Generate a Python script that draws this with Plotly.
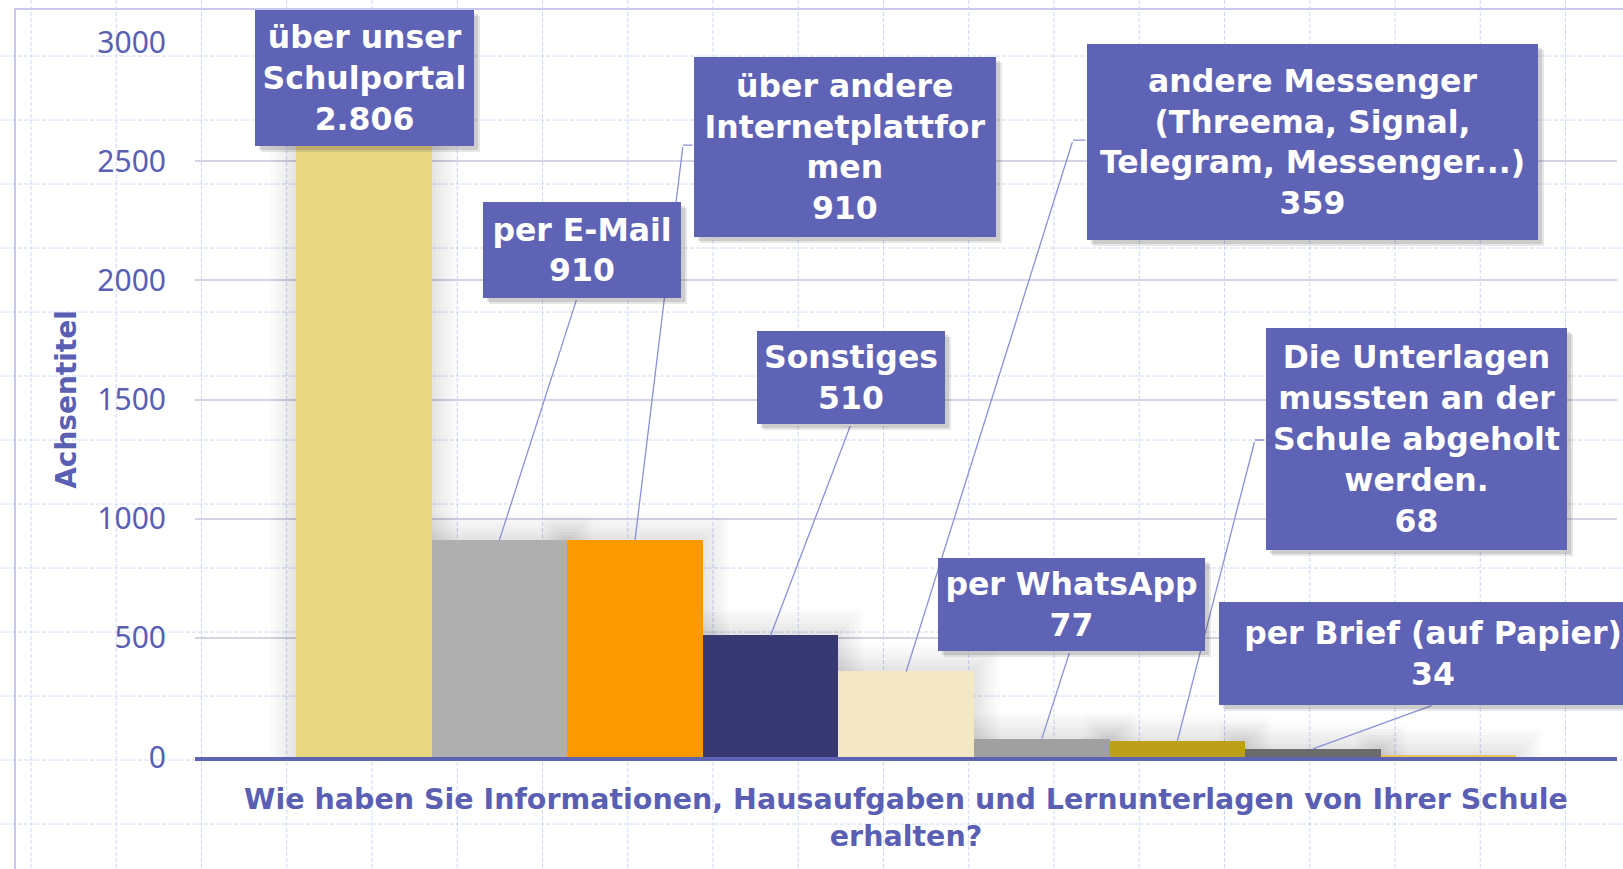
import plotly.graph_objects as go

# ---------------- data ----------------
categories = [
    "über unser Schulportal",
    "per E-Mail",
    "über andere Internetplattformen",
    "Sonstiges",
    "andere Messenger (Threema, Signal, Telegram, Messenger...)",
    "per WhatsApp",
    "Die Unterlagen mussten an der Schule abgeholt werden.",
    "per Brief (auf Papier)",
    "weitere",
]
values = [2806, 910, 910, 510, 359, 77, 68, 34, 10]
bar_colors = ["#E9D681", "#AFAFAF", "#FD9A00", "#383873", "#F4E8C4",
              "#A0A0A0", "#BD9F1A", "#6B6B6B", "#E6C35C"]
label_lines = [
    ["über unser", "Schulportal"],
    ["per E-Mail"],
    ["über andere", "Internetplattfor", "men"],
    ["Sonstiges"],
    ["andere Messenger", "(Threema, Signal,", "Telegram, Messenger...)"],
    ["per WhatsApp"],
    ["Die Unterlagen", "mussten an der", "Schule abgeholt", "werden."],
    ["per Brief (auf Papier)"],
]
y_ticks = [0, 500, 1000, 1500, 2000, 2500, 3000]
y_title = "Achsentitel"
x_title = ("Wie haben Sie Informationen, Hausaufgaben und Lernunterlagen von Ihrer Schule"
           "<br>erhalten?")

# ---------------- styling / layout (pixels) ----------------
W, H = 1623, 869
M_L, M_R, M_T, M_B = 195, 6, 42, 112
Y_MAX = 3000
X_RANGE = [-1.245, 9.242]
PLOT_W = W - M_L - M_R
PLOT_H = H - M_T - M_B
UNITS_PER_PX_Y = Y_MAX / PLOT_H
UNITS_PER_PX_X = (X_RANGE[1] - X_RANGE[0]) / PLOT_W

BOX_COLOR = "#5F63B5"
TEXT_BLUE = "#5A5FB4"
LEADER = "#8C90D8"
BOLD = "DejaVu Sans"

# label box: centre offset from bar top (dx, dy in screen px), size, leader tail, elbow segment
label_boxes = [
    dict(dx=0.7, dy=-10, w=219, h=136, tail=None, seg=0),
    dict(dx=82.6, dy=-290, w=198, h=96, tail=(77.6, -242), seg=0),
    dict(dx=210, dy=-393, w=302, h=180, tail=(48, -395), seg=11),
    dict(dx=80.4, dy=-258, w=188, h=93, tail=(80.4, -211.4), seg=0),
    dict(dx=406.3, dy=-529.4, w=451, h=196, tail=(166.8, -531.4), seg=14),
    dict(dx=29.7, dy=-134, w=267, h=93, tail=(28.2, -87.6), seg=0),
    dict(dx=239, dy=-301.8, w=301, h=222, tail=(77.6, -300.8), seg=11),
    dict(dx=120, dy=-95.4, w=428, h=103, tail=(120, -43.9), seg=0),
]


def fmt_de(v):
    return f"{v:,}".replace(",", ".")


fig = go.Figure()

# soft glow behind bars (many faint layers -> smooth gradient)
for ext_px in [26, 23, 20, 17, 14, 11, 8, 5, 3]:
    fig.add_trace(go.Bar(
        x=categories,
        y=[v + ext_px * UNITS_PER_PX_Y for v in values],
        width=1 + 2 * ext_px * UNITS_PER_PX_X,
        marker=dict(color="rgba(60,60,60,0.016)", line=dict(width=0)),
        hoverinfo="skip", showlegend=False,
    ))

fig.add_trace(go.Bar(
    x=categories, y=values, width=1,
    marker=dict(color=bar_colors, line=dict(width=0)),
    showlegend=False,
))

# ---------------- background graph paper + frame ----------------
shapes = []


def px_to_paper_x(px):
    return (px - M_L) / PLOT_W


def py_to_paper_y(py):
    return (H - M_B - py) / PLOT_H


grid_col = "#CCD8F6"
gx = 31.0
while gx < W:
    shapes.append(dict(type="line", xref="paper", yref="paper",
                       x0=px_to_paper_x(gx), x1=px_to_paper_x(gx),
                       y0=py_to_paper_y(0), y1=py_to_paper_y(H),
                       line=dict(color=grid_col, width=1, dash="4px,2px"), layer="below"))
    gx += 85.25
gy = 56.0
while gy < H:
    shapes.append(dict(type="line", xref="paper", yref="paper",
                       x0=px_to_paper_x(0), x1=px_to_paper_x(W),
                       y0=py_to_paper_y(gy), y1=py_to_paper_y(gy),
                       line=dict(color=grid_col, width=1, dash="4px,2px"), layer="below"))
    gy += 64.0
shapes.append(dict(type="rect", xref="paper", yref="paper",
                   x0=px_to_paper_x(15), x1=px_to_paper_x(W + 20),
                   y0=py_to_paper_y(9), y1=py_to_paper_y(H + 20),
                   line=dict(color="#C8C8EE", width=2), fillcolor="rgba(0,0,0,0)",
                   layer="below"))

# ---------------- annotations ----------------
annotations = []
# leaders
for i, box in enumerate(label_boxes):
    if box["tail"] is None:
        continue
    tx, ty = box["tail"]
    annotations.append(dict(
        x=categories[i], y=values[i], xref="x", yref="y",
        text=" ", font=dict(size=1), showarrow=True, arrowhead=0,
        arrowwidth=1.3, arrowcolor=LEADER, ax=tx, ay=ty, standoff=0,
    ))
    if box["seg"]:
        annotations.append(dict(
            x=categories[i], y=values[i], xref="x", yref="y",
            xshift=tx, yshift=-ty,
            text=" ", font=dict(size=1), showarrow=True, arrowhead=0,
            arrowwidth=1.3, arrowcolor=LEADER, ax=box["seg"], ay=0, standoff=0,
        ))
# shadows (two soft layers) + boxes
for off, alpha in [(6, 0.12), (4, 0.16)]:
    for i, box in enumerate(label_boxes):
        annotations.append(dict(
            x=categories[i], y=values[i], xref="x", yref="y",
            xshift=box["dx"] + off, yshift=-box["dy"] - off,
            width=box["w"], height=box["h"], text=" ",
            bgcolor=f"rgba(60,60,60,{alpha})", borderpad=0, borderwidth=0,
            showarrow=False, font=dict(size=10, color="rgba(0,0,0,0)"),
        ))
for i, box in enumerate(label_boxes):
    text = "<br>".join(label_lines[i] + [fmt_de(values[i])])
    annotations.append(dict(
        x=categories[i], y=values[i], xref="x", yref="y",
        xshift=box["dx"], yshift=-box["dy"],
        width=box["w"], height=box["h"], text=text, align="center",
        valign="middle", bgcolor=BOX_COLOR, borderpad=0, borderwidth=0,
        showarrow=False,
        font=dict(family=BOLD, size=31.5, color="white", weight="bold"),
    ))

fig.update_layout(
    width=W, height=H,
    margin=dict(l=M_L, r=M_R, t=M_T, b=M_B, autoexpand=False),
    paper_bgcolor="white", plot_bgcolor="rgba(0,0,0,0)",
    barmode="overlay", bargap=0,
    showlegend=False,
    shapes=shapes, annotations=annotations,
    xaxis=dict(
        range=X_RANGE, showticklabels=False, showgrid=False, zeroline=False,
        showline=True, linecolor=BOX_COLOR, linewidth=4, ticks="",
        title=dict(text=x_title, standoff=30,
                   font=dict(family=BOLD, size=28.5, color=TEXT_BLUE, weight="bold")),
    ),
    yaxis=dict(
        range=[0, Y_MAX], tickvals=y_ticks, showline=False, zeroline=False,
        showgrid=True, gridcolor="#D4D4E4", gridwidth=1.5,
        tickfont=dict(family="Noto Sans", size=30, color=TEXT_BLUE),
        ticklabelstandoff=28,
        title=dict(text=y_title, standoff=12,
                   font=dict(family=BOLD, size=28, color=TEXT_BLUE, weight="bold")),
    ),
)

fig.write_html("out.html", config=dict(displayModeBar=False),
               post_script="document.body.style.margin='0';document.body.style.overflow='hidden';")
